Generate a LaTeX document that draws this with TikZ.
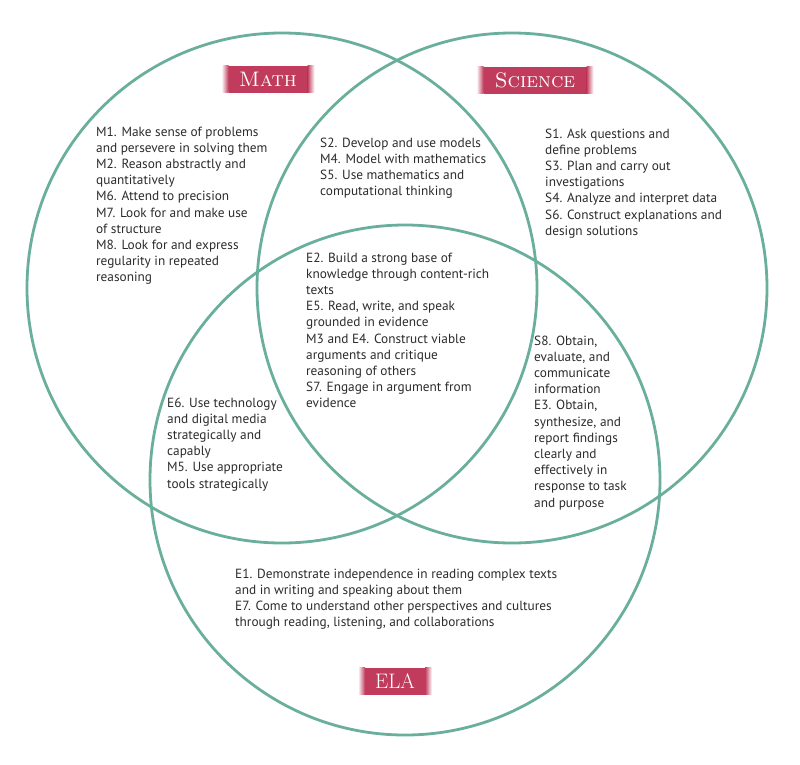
\documentclass[tikz,border=0pt]{standalone}
\usepackage{fontspec}
\newfontfamily\bodyfont{PT Sans}
\usetikzlibrary{positioning}
\definecolor{ringgreen}{HTML}{6AAE9C}
\definecolor{labelred}{HTML}{C13C5C}
\definecolor{textgray}{HTML}{2B2B2B}

\begin{document}
\begin{tikzpicture}[
    x=1pt,
    y=-1pt,
    ring/.style={draw=ringgreen,line width=2.8pt,circle,minimum size=510pt,inner sep=0pt},
    setlabel/.style={text=white,minimum height=27pt,inner sep=0pt,
      font=\fontsize{21}{21}\selectfont,
      path picture={
        \fill[labelred] ([xshift=7pt]path picture bounding box.south west) rectangle ([xshift=-7pt]path picture bounding box.north east);
        \shade[left color=white,right color=labelred] (path picture bounding box.south west) rectangle ([xshift=7pt]path picture bounding box.north west);
        \shade[left color=labelred,right color=white] ([xshift=-7pt]path picture bounding box.south east) rectangle (path picture bounding box.north east);
      }},
    practice/.style={anchor=north west,align=left,inner sep=0pt,text=textgray,
      font=\bodyfont\fontsize{13.3}{16.2}\selectfont}
    ]
    \useasboundingbox (0,0) rectangle (800,764);

    % the three circles
    \node[ring] (math) at (282,288) {};
    \node[ring] (science) at (512,288) {};
    \node[ring] (ela) at (405,480) {};

    % labels
    \node[setlabel,minimum width=93pt] (mathlabel) at (268,79) {\textsc{Math}};
    \node[setlabel,minimum width=117pt] (sciencelabel) at (535,80) {\textsc{Science}};
    \node[setlabel,minimum width=74pt] (elalabel) at (395,681) {ELA};

    % practices
    \node[practice] (monly) at (96,126.5) {M1. Make sense of problems\\and persevere in solving them\\M2. Reason abstractly and\\quantitatively\\M6. Attend to precision\\M7. Look for and make use\\of structure\\M8. Look for and express\\regularity in repeated\\reasoning};
    \node[practice] (ms) at (320,137.5) {S2. Develop and use models\\M4. Model with mathematics\\S5. Use mathematics and\\computational thinking};
    \node[practice] (sonly) at (545,128.5) {S1. Ask questions and\\define problems\\S3. Plan and carry out\\investigations\\S4. Analyze and interpret data\\S6. Construct explanations and\\design solutions};
    \node[practice] (mse) at (306,252.5) {E2. Build a strong base of\\knowledge through content-rich\\texts\\E5. Read, write, and speak\\grounded in evidence\\M3 and E4. Construct viable\\arguments and critique\\reasoning of others\\S7. Engage in argument from\\evidence};
    \node[practice] (me) at (167,397.5) {E6. Use technology\\and digital media\\strategically and\\capably\\M5. Use appropriate\\tools strategically};
    \node[practice] (se) at (534,335.5) {S8. Obtain,\\evaluate, and\\communicate\\information\\E3. Obtain,\\synthesize, and\\report findings\\clearly and\\effectively in\\response to task\\and purpose};
    \node[practice] (eonly) at (235,568.5) {E1. Demonstrate independence in reading complex texts\\and in writing and speaking about them\\E7. Come to understand other perspectives and cultures\\through reading, listening, and collaborations};
\end{tikzpicture}
\end{document}
